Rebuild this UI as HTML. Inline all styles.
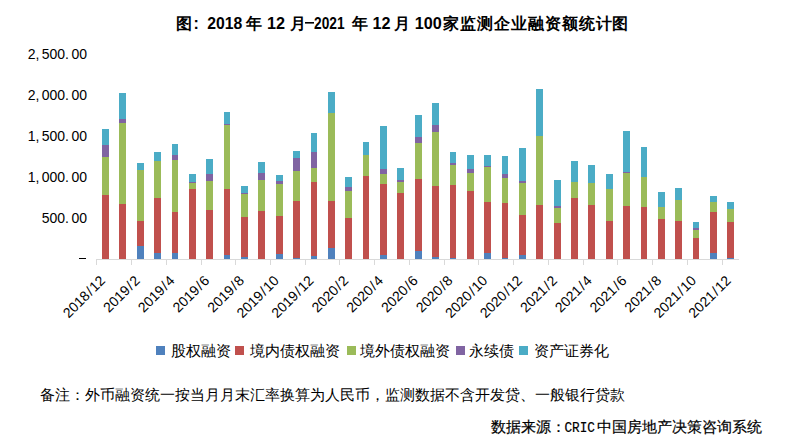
<!DOCTYPE html>
<html><head><meta charset="utf-8">
<style>
html,body{margin:0;padding:0;background:#fff;}
body{width:785px;height:440px;overflow:hidden;}
rect{shape-rendering:crispEdges;}
svg{display:block;font-family:"Liberation Sans",sans-serif;}
.xl{font-size:14px;fill:#000;}
.yl{font-size:14px;fill:#000;}
.lg{font-size:15px;fill:#000;}
.tt{font-size:16px;font-weight:bold;fill:#000;}
.ft{font-size:15px;font-weight:300;fill:#000;}
.fb{font-size:15px;fill:#000;stroke:#000;stroke-width:0.2px;}
</style></head><body>
<svg width="785" height="440" viewBox="0 0 785 440">
<rect x="0" y="0" width="785" height="440" fill="#fff"/>
<g class="tt">
<text x="175.5" y="29">图</text>
<text x="193.5" y="29">:</text>
<text x="207.2" y="29" textLength="35" lengthAdjust="spacingAndGlyphs">2018</text>
<text x="246" y="29">年</text>
<text x="267" y="29" textLength="18" lengthAdjust="spacingAndGlyphs">12</text>
<text x="289.5" y="29">月</text>
<rect x="305" y="22" width="9" height="1.6" fill="#000" style="shape-rendering:auto"/>
<text x="314" y="29" textLength="30.5" lengthAdjust="spacingAndGlyphs">2021</text>
<text x="351.5" y="29">年</text>
<text x="372.5" y="29" textLength="18" lengthAdjust="spacingAndGlyphs">12</text>
<text x="394" y="29">月</text>
<text x="414.8" y="29" textLength="27" lengthAdjust="spacingAndGlyphs">100</text>
<text x="443" y="29" letter-spacing="0.95">家监测企业融资额统计图</text>
</g>
<text x="87" y="59.40" text-anchor="end" class="yl">2,<tspan dx="2.4">500.</tspan><tspan dx="2.4">00</tspan></text><text x="87" y="100.24" text-anchor="end" class="yl">2,<tspan dx="2.4">000.</tspan><tspan dx="2.4">00</tspan></text><text x="87" y="141.08" text-anchor="end" class="yl">1,<tspan dx="2.4">500.</tspan><tspan dx="2.4">00</tspan></text><text x="87" y="181.92" text-anchor="end" class="yl">1,<tspan dx="2.4">000.</tspan><tspan dx="2.4">00</tspan></text><text x="87" y="222.76" text-anchor="end" class="yl">500.<tspan dx="2.4">00</tspan></text><rect x="79" y="258" width="7" height="1" fill="#000"/>
<rect x="102" y="195" width="7" height="64" fill="#C0504D"/><rect x="102" y="157" width="7" height="38" fill="#9BBB59"/><rect x="102" y="145" width="7" height="12" fill="#8064A2"/><rect x="102" y="129" width="7" height="16" fill="#4BACC6"/><rect x="119" y="204" width="7" height="55" fill="#C0504D"/><rect x="119" y="123" width="7" height="81" fill="#9BBB59"/><rect x="119" y="119" width="7" height="4" fill="#8064A2"/><rect x="119" y="93" width="7" height="26" fill="#4BACC6"/><rect x="137" y="246" width="7" height="13" fill="#4F81BD"/><rect x="137" y="221" width="7" height="25" fill="#C0504D"/><rect x="137" y="170" width="7" height="51" fill="#9BBB59"/><rect x="137" y="163" width="7" height="7" fill="#4BACC6"/><rect x="154" y="253" width="7" height="6" fill="#4F81BD"/><rect x="154" y="198" width="7" height="55" fill="#C0504D"/><rect x="154" y="161" width="7" height="37" fill="#9BBB59"/><rect x="154" y="152" width="7" height="9" fill="#4BACC6"/><rect x="172" y="253" width="6" height="6" fill="#4F81BD"/><rect x="172" y="212" width="6" height="41" fill="#C0504D"/><rect x="172" y="160" width="6" height="52" fill="#9BBB59"/><rect x="172" y="155" width="6" height="5" fill="#8064A2"/><rect x="172" y="144" width="6" height="11" fill="#4BACC6"/><rect x="189" y="189" width="7" height="70" fill="#C0504D"/><rect x="189" y="183" width="7" height="6" fill="#9BBB59"/><rect x="189" y="182" width="7" height="1" fill="#8064A2"/><rect x="189" y="174" width="7" height="8" fill="#4BACC6"/><rect x="206" y="210" width="7" height="49" fill="#C0504D"/><rect x="206" y="181" width="7" height="29" fill="#9BBB59"/><rect x="206" y="174" width="7" height="7" fill="#8064A2"/><rect x="206" y="159" width="7" height="15" fill="#4BACC6"/><rect x="224" y="255" width="6" height="4" fill="#4F81BD"/><rect x="224" y="189" width="6" height="66" fill="#C0504D"/><rect x="224" y="125" width="6" height="64" fill="#9BBB59"/><rect x="224" y="124" width="6" height="1" fill="#8064A2"/><rect x="224" y="112" width="6" height="12" fill="#4BACC6"/><rect x="241" y="257" width="7" height="2" fill="#4F81BD"/><rect x="241" y="217" width="7" height="40" fill="#C0504D"/><rect x="241" y="194" width="7" height="23" fill="#9BBB59"/><rect x="241" y="193" width="7" height="1" fill="#8064A2"/><rect x="241" y="186" width="7" height="7" fill="#4BACC6"/><rect x="258" y="211" width="7" height="48" fill="#C0504D"/><rect x="258" y="180" width="7" height="31" fill="#9BBB59"/><rect x="258" y="173" width="7" height="7" fill="#8064A2"/><rect x="258" y="162" width="7" height="11" fill="#4BACC6"/><rect x="276" y="254" width="7" height="5" fill="#4F81BD"/><rect x="276" y="216" width="7" height="38" fill="#C0504D"/><rect x="276" y="184" width="7" height="32" fill="#9BBB59"/><rect x="276" y="181" width="7" height="3" fill="#8064A2"/><rect x="276" y="175" width="7" height="6" fill="#4BACC6"/><rect x="293" y="258" width="7" height="1" fill="#4F81BD"/><rect x="293" y="201" width="7" height="57" fill="#C0504D"/><rect x="293" y="171" width="7" height="30" fill="#9BBB59"/><rect x="293" y="158" width="7" height="13" fill="#8064A2"/><rect x="293" y="151" width="7" height="7" fill="#4BACC6"/><rect x="311" y="256" width="6" height="3" fill="#4F81BD"/><rect x="311" y="182" width="6" height="74" fill="#C0504D"/><rect x="311" y="168" width="6" height="14" fill="#9BBB59"/><rect x="311" y="152" width="6" height="16" fill="#8064A2"/><rect x="311" y="133" width="6" height="19" fill="#4BACC6"/><rect x="328" y="248" width="7" height="11" fill="#4F81BD"/><rect x="328" y="201" width="7" height="47" fill="#C0504D"/><rect x="328" y="113" width="7" height="88" fill="#9BBB59"/><rect x="328" y="92" width="7" height="21" fill="#4BACC6"/><rect x="345" y="218" width="7" height="41" fill="#C0504D"/><rect x="345" y="191" width="7" height="27" fill="#9BBB59"/><rect x="345" y="187" width="7" height="4" fill="#8064A2"/><rect x="345" y="177" width="7" height="10" fill="#4BACC6"/><rect x="363" y="176" width="6" height="83" fill="#C0504D"/><rect x="363" y="155" width="6" height="21" fill="#9BBB59"/><rect x="363" y="142" width="6" height="13" fill="#4BACC6"/><rect x="380" y="255" width="7" height="4" fill="#4F81BD"/><rect x="380" y="184" width="7" height="71" fill="#C0504D"/><rect x="380" y="174" width="7" height="10" fill="#9BBB59"/><rect x="380" y="169" width="7" height="5" fill="#8064A2"/><rect x="380" y="126" width="7" height="43" fill="#4BACC6"/><rect x="397" y="193" width="7" height="66" fill="#C0504D"/><rect x="397" y="182" width="7" height="11" fill="#9BBB59"/><rect x="397" y="180" width="7" height="2" fill="#8064A2"/><rect x="397" y="168" width="7" height="12" fill="#4BACC6"/><rect x="415" y="251" width="7" height="8" fill="#4F81BD"/><rect x="415" y="179" width="7" height="72" fill="#C0504D"/><rect x="415" y="143" width="7" height="36" fill="#9BBB59"/><rect x="415" y="137" width="7" height="6" fill="#8064A2"/><rect x="415" y="115" width="7" height="22" fill="#4BACC6"/><rect x="432" y="257" width="7" height="2" fill="#4F81BD"/><rect x="432" y="186" width="7" height="71" fill="#C0504D"/><rect x="432" y="132" width="7" height="54" fill="#9BBB59"/><rect x="432" y="125" width="7" height="7" fill="#8064A2"/><rect x="432" y="103" width="7" height="22" fill="#4BACC6"/><rect x="450" y="258" width="6" height="1" fill="#4F81BD"/><rect x="450" y="185" width="6" height="73" fill="#C0504D"/><rect x="450" y="165" width="6" height="20" fill="#9BBB59"/><rect x="450" y="163" width="6" height="2" fill="#8064A2"/><rect x="450" y="152" width="6" height="11" fill="#4BACC6"/><rect x="467" y="191" width="7" height="68" fill="#C0504D"/><rect x="467" y="173" width="7" height="18" fill="#9BBB59"/><rect x="467" y="169" width="7" height="4" fill="#8064A2"/><rect x="467" y="155" width="7" height="14" fill="#4BACC6"/><rect x="484" y="253" width="7" height="6" fill="#4F81BD"/><rect x="484" y="202" width="7" height="51" fill="#C0504D"/><rect x="484" y="167" width="7" height="35" fill="#9BBB59"/><rect x="484" y="166" width="7" height="1" fill="#8064A2"/><rect x="484" y="155" width="7" height="11" fill="#4BACC6"/><rect x="502" y="258" width="6" height="1" fill="#4F81BD"/><rect x="502" y="203" width="6" height="55" fill="#C0504D"/><rect x="502" y="178" width="6" height="25" fill="#9BBB59"/><rect x="502" y="174" width="6" height="4" fill="#8064A2"/><rect x="502" y="156" width="6" height="18" fill="#4BACC6"/><rect x="519" y="255" width="7" height="4" fill="#4F81BD"/><rect x="519" y="215" width="7" height="40" fill="#C0504D"/><rect x="519" y="183" width="7" height="32" fill="#9BBB59"/><rect x="519" y="181" width="7" height="2" fill="#8064A2"/><rect x="519" y="148" width="7" height="33" fill="#4BACC6"/><rect x="536" y="205" width="7" height="54" fill="#C0504D"/><rect x="536" y="136" width="7" height="69" fill="#9BBB59"/><rect x="536" y="89" width="7" height="47" fill="#4BACC6"/><rect x="554" y="223" width="7" height="36" fill="#C0504D"/><rect x="554" y="208" width="7" height="15" fill="#9BBB59"/><rect x="554" y="206" width="7" height="2" fill="#8064A2"/><rect x="554" y="180" width="7" height="26" fill="#4BACC6"/><rect x="571" y="198" width="7" height="61" fill="#C0504D"/><rect x="571" y="182" width="7" height="16" fill="#9BBB59"/><rect x="571" y="161" width="7" height="21" fill="#4BACC6"/><rect x="588" y="205" width="7" height="54" fill="#C0504D"/><rect x="588" y="183" width="7" height="22" fill="#9BBB59"/><rect x="588" y="165" width="7" height="18" fill="#4BACC6"/><rect x="606" y="221" width="7" height="38" fill="#C0504D"/><rect x="606" y="189" width="7" height="32" fill="#9BBB59"/><rect x="606" y="174" width="7" height="15" fill="#4BACC6"/><rect x="623" y="206" width="7" height="53" fill="#C0504D"/><rect x="623" y="173" width="7" height="33" fill="#9BBB59"/><rect x="623" y="172" width="7" height="1" fill="#8064A2"/><rect x="623" y="131" width="7" height="41" fill="#4BACC6"/><rect x="641" y="207" width="6" height="52" fill="#C0504D"/><rect x="641" y="177" width="6" height="30" fill="#9BBB59"/><rect x="641" y="147" width="6" height="30" fill="#4BACC6"/><rect x="658" y="219" width="7" height="40" fill="#C0504D"/><rect x="658" y="207" width="7" height="12" fill="#9BBB59"/><rect x="658" y="192" width="7" height="15" fill="#4BACC6"/><rect x="675" y="221" width="7" height="38" fill="#C0504D"/><rect x="675" y="200" width="7" height="21" fill="#9BBB59"/><rect x="675" y="188" width="7" height="12" fill="#4BACC6"/><rect x="693" y="238" width="6" height="21" fill="#C0504D"/><rect x="693" y="230" width="6" height="8" fill="#9BBB59"/><rect x="693" y="228" width="6" height="2" fill="#8064A2"/><rect x="693" y="222" width="6" height="6" fill="#4BACC6"/><rect x="710" y="253" width="7" height="6" fill="#4F81BD"/><rect x="710" y="212" width="7" height="41" fill="#C0504D"/><rect x="710" y="202" width="7" height="10" fill="#9BBB59"/><rect x="710" y="196" width="7" height="6" fill="#4BACC6"/><rect x="727" y="258" width="7" height="1" fill="#4F81BD"/><rect x="727" y="222" width="7" height="36" fill="#C0504D"/><rect x="727" y="209" width="7" height="13" fill="#9BBB59"/><rect x="727" y="202" width="7" height="7" fill="#4BACC6"/>
<rect x="96" y="259" width="643" height="1" fill="#D9D9D9"/>
<rect x="96" y="259" width="1" height="6" fill="#D9D9D9"/><rect x="131" y="259" width="1" height="6" fill="#D9D9D9"/><rect x="166" y="259" width="1" height="6" fill="#D9D9D9"/><rect x="201" y="259" width="1" height="6" fill="#D9D9D9"/><rect x="235" y="259" width="1" height="6" fill="#D9D9D9"/><rect x="270" y="259" width="1" height="6" fill="#D9D9D9"/><rect x="305" y="259" width="1" height="6" fill="#D9D9D9"/><rect x="339" y="259" width="1" height="6" fill="#D9D9D9"/><rect x="374" y="259" width="1" height="6" fill="#D9D9D9"/><rect x="409" y="259" width="1" height="6" fill="#D9D9D9"/><rect x="444" y="259" width="1" height="6" fill="#D9D9D9"/><rect x="478" y="259" width="1" height="6" fill="#D9D9D9"/><rect x="513" y="259" width="1" height="6" fill="#D9D9D9"/><rect x="548" y="259" width="1" height="6" fill="#D9D9D9"/><rect x="583" y="259" width="1" height="6" fill="#D9D9D9"/><rect x="617" y="259" width="1" height="6" fill="#D9D9D9"/><rect x="652" y="259" width="1" height="6" fill="#D9D9D9"/><rect x="687" y="259" width="1" height="6" fill="#D9D9D9"/><rect x="722" y="259" width="1" height="6" fill="#D9D9D9"/>
<text x="0" y="0" transform="translate(105.99,281.5) rotate(-45)" text-anchor="end" class="xl">2018<tspan dx="1.2">/</tspan><tspan dx="1">12</tspan></text><text x="0" y="0" transform="translate(140.75,281.5) rotate(-45)" text-anchor="end" class="xl">2019<tspan dx="1.2">/</tspan><tspan dx="1">2</tspan></text><text x="0" y="0" transform="translate(175.51,281.5) rotate(-45)" text-anchor="end" class="xl">2019<tspan dx="1.2">/</tspan><tspan dx="1">4</tspan></text><text x="0" y="0" transform="translate(210.28,281.5) rotate(-45)" text-anchor="end" class="xl">2019<tspan dx="1.2">/</tspan><tspan dx="1">6</tspan></text><text x="0" y="0" transform="translate(245.04,281.5) rotate(-45)" text-anchor="end" class="xl">2019<tspan dx="1.2">/</tspan><tspan dx="1">8</tspan></text><text x="0" y="0" transform="translate(279.80,281.5) rotate(-45)" text-anchor="end" class="xl">2019<tspan dx="1.2">/</tspan><tspan dx="1">10</tspan></text><text x="0" y="0" transform="translate(314.56,281.5) rotate(-45)" text-anchor="end" class="xl">2019<tspan dx="1.2">/</tspan><tspan dx="1">12</tspan></text><text x="0" y="0" transform="translate(349.32,281.5) rotate(-45)" text-anchor="end" class="xl">2020<tspan dx="1.2">/</tspan><tspan dx="1">2</tspan></text><text x="0" y="0" transform="translate(384.09,281.5) rotate(-45)" text-anchor="end" class="xl">2020<tspan dx="1.2">/</tspan><tspan dx="1">4</tspan></text><text x="0" y="0" transform="translate(418.85,281.5) rotate(-45)" text-anchor="end" class="xl">2020<tspan dx="1.2">/</tspan><tspan dx="1">6</tspan></text><text x="0" y="0" transform="translate(453.61,281.5) rotate(-45)" text-anchor="end" class="xl">2020<tspan dx="1.2">/</tspan><tspan dx="1">8</tspan></text><text x="0" y="0" transform="translate(488.37,281.5) rotate(-45)" text-anchor="end" class="xl">2020<tspan dx="1.2">/</tspan><tspan dx="1">10</tspan></text><text x="0" y="0" transform="translate(523.13,281.5) rotate(-45)" text-anchor="end" class="xl">2020<tspan dx="1.2">/</tspan><tspan dx="1">12</tspan></text><text x="0" y="0" transform="translate(557.90,281.5) rotate(-45)" text-anchor="end" class="xl">2021<tspan dx="1.2">/</tspan><tspan dx="1">2</tspan></text><text x="0" y="0" transform="translate(592.66,281.5) rotate(-45)" text-anchor="end" class="xl">2021<tspan dx="1.2">/</tspan><tspan dx="1">4</tspan></text><text x="0" y="0" transform="translate(627.42,281.5) rotate(-45)" text-anchor="end" class="xl">2021<tspan dx="1.2">/</tspan><tspan dx="1">6</tspan></text><text x="0" y="0" transform="translate(662.18,281.5) rotate(-45)" text-anchor="end" class="xl">2021<tspan dx="1.2">/</tspan><tspan dx="1">8</tspan></text><text x="0" y="0" transform="translate(696.94,281.5) rotate(-45)" text-anchor="end" class="xl">2021<tspan dx="1.2">/</tspan><tspan dx="1">10</tspan></text><text x="0" y="0" transform="translate(731.71,281.5) rotate(-45)" text-anchor="end" class="xl">2021<tspan dx="1.2">/</tspan><tspan dx="1">12</tspan></text>
<rect x="156" y="346" width="9" height="9" fill="#4F81BD"/><text x="170.5" y="355.5" class="lg">股权融资</text><rect x="235" y="346" width="9" height="9" fill="#C0504D"/><text x="250.3" y="355.5" class="lg">境内债权融资</text><rect x="347" y="346" width="9" height="9" fill="#9BBB59"/><text x="360.2" y="355.5" class="lg">境外债权融资</text><rect x="456" y="346" width="9" height="9" fill="#8064A2"/><text x="469.4" y="355.5" class="lg">永续债</text><rect x="519" y="346" width="9" height="9" fill="#4BACC6"/><text x="534" y="355.5" class="lg">资产证券化</text>
<text x="40" y="400" class="ft">备注：外币融资统一按当月月末汇率换算为人民币，监测数据不含开发贷、一般银行贷款</text>
<text x="491" y="431.8" class="fb">数据来源：<tspan x="564.5" font-family="Liberation Mono" textLength="30.5" lengthAdjust="spacingAndGlyphs">CRIC</tspan><tspan x="596.5">中国房地产决策咨询系统</tspan></text>
</svg>
</body></html>
